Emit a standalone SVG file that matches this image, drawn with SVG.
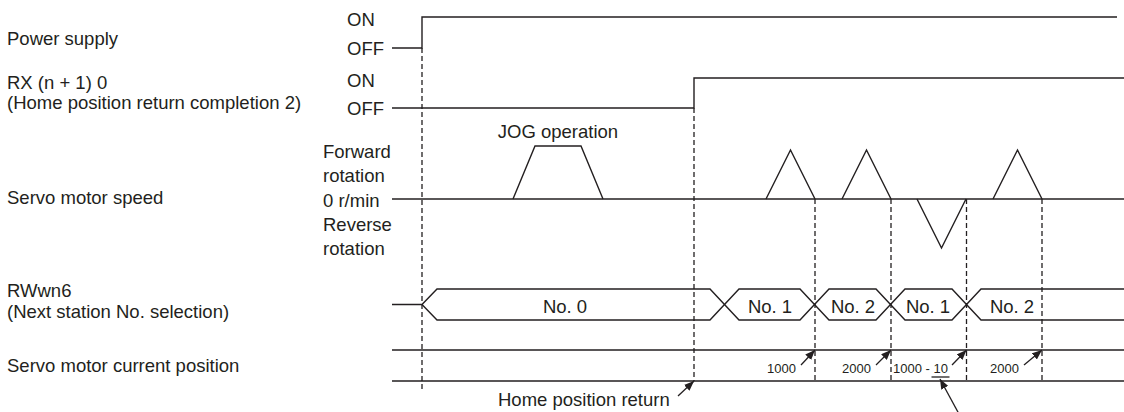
<svg xmlns="http://www.w3.org/2000/svg" width="1124" height="412" viewBox="0 0 1124 412">
<style>
text{font-family:"Liberation Sans",Arial,sans-serif;fill:#231f20}
.t{font-size:18.5px}
.s{font-size:13px}
.m{text-anchor:middle}
.w{fill:none;stroke:#231f20;stroke-width:1.4;stroke-linejoin:miter}
.d{fill:none;stroke:#231f20;stroke-width:1.3;stroke-dasharray:5 3}
.a{fill:none;stroke:#231f20;stroke-width:1.3}
</style>
<defs>
<marker id="ah" viewBox="0 0 10 8" refX="10" refY="4" markerWidth="10" markerHeight="8" markerUnits="userSpaceOnUse" orient="auto">
<path d="M0,0 L10,4 L0,8 Z" fill="#231f20"/>
</marker>
</defs>
<rect width="1124" height="412" fill="#fff"/>

<g id="power-supply">
<text class="t" x="7" y="45">Power supply</text>
<text class="t" x="347" y="26">ON</text>
<text class="t" x="347" y="55">OFF</text>
<path class="w" d="M392,48 H422 V17 H1117"/>
</g>

<g id="home-completion">
<text class="t" x="7" y="89">RX (n + 1) 0</text>
<text class="t" x="7" y="109">(Home position return completion 2)</text>
<text class="t" x="347" y="87">ON</text>
<text class="t" x="347" y="115">OFF</text>
<path class="w" d="M392,108 H694 V78 H1124"/>
</g>

<g id="servo-speed">
<text class="t" x="7" y="204">Servo motor speed</text>
<text class="t" x="323" y="158">Forward</text>
<text class="t" x="323" y="182">rotation</text>
<text class="t" x="323" y="207">0 r/min</text>
<text class="t" x="323" y="231">Reverse</text>
<text class="t" x="323" y="255">rotation</text>
<text class="t m" x="558" y="138">JOG operation</text>
<path class="w" d="M392,199 H1124"/>
<path class="w" d="M513,199 L535,146 H581 L603,199"/>
<path class="w" d="M766,199 L790.5,150 L815,199"/>
<path class="w" d="M842,199 L866.5,150 L891,199"/>
<path class="w" d="M917,199 L941.5,248 L966,199"/>
<path class="w" d="M993,199 L1017.5,150 L1042,199"/>
</g>

<g id="next-station">
<text class="t" x="7" y="297">RWwn6</text>
<text class="t" x="7" y="318">(Next station No. selection)</text>
<path class="w" d="M392,304.5 H422 L437,289 H710 L739,320 H800 L829,289 H876 L905,320 H952 L981,289 H1124"/>
<path class="w" d="M422,304.5 L437,320 H710 L739,289 H800 L829,320 H876 L905,289 H952 L981,320 H1124"/>
<text class="t m" x="565" y="313">No. 0</text>
<text class="t m" x="770" y="313">No. 1</text>
<text class="t m" x="853" y="313">No. 2</text>
<text class="t m" x="928" y="313">No. 1</text>
<text class="t m" x="1012" y="313">No. 2</text>
</g>

<g id="current-position">
<text class="t" x="7" y="372">Servo motor current position</text>
<path class="w" d="M392,350 H1124 M392,381 H1124"/>
<text class="s" x="767" y="373">1000</text>
<text class="s" x="842" y="373">2000</text>
<text class="s" x="893" y="373">1000 - 10</text>
<path class="a" d="M931.5,377 H949.5"/>
<text class="s" x="990" y="373">2000</text>
<text class="t" x="498" y="406">Home position return</text>
</g>

<g id="connectors">
<path class="d" d="M422,48 V392"/>
<path class="d" d="M694,108 V381"/>
<path class="d" d="M815,199 V381"/>
<path class="d" d="M891,199 V381"/>
<path class="d" d="M966.5,199 V381"/>
<path class="d" d="M1042,199 V381"/>
<path class="a" d="M678,396 L694,381" marker-end="url(#ah)"/>
<path class="a" d="M801,365 L815,350" marker-end="url(#ah)"/>
<path class="a" d="M876,365 L891,350" marker-end="url(#ah)"/>
<path class="a" d="M952,365 L966.5,350" marker-end="url(#ah)"/>
<path class="a" d="M1024,365 L1042,350" marker-end="url(#ah)"/>
<path class="a" d="M959,414 L940,379" marker-end="url(#ah)"/>
</g>
</svg>
